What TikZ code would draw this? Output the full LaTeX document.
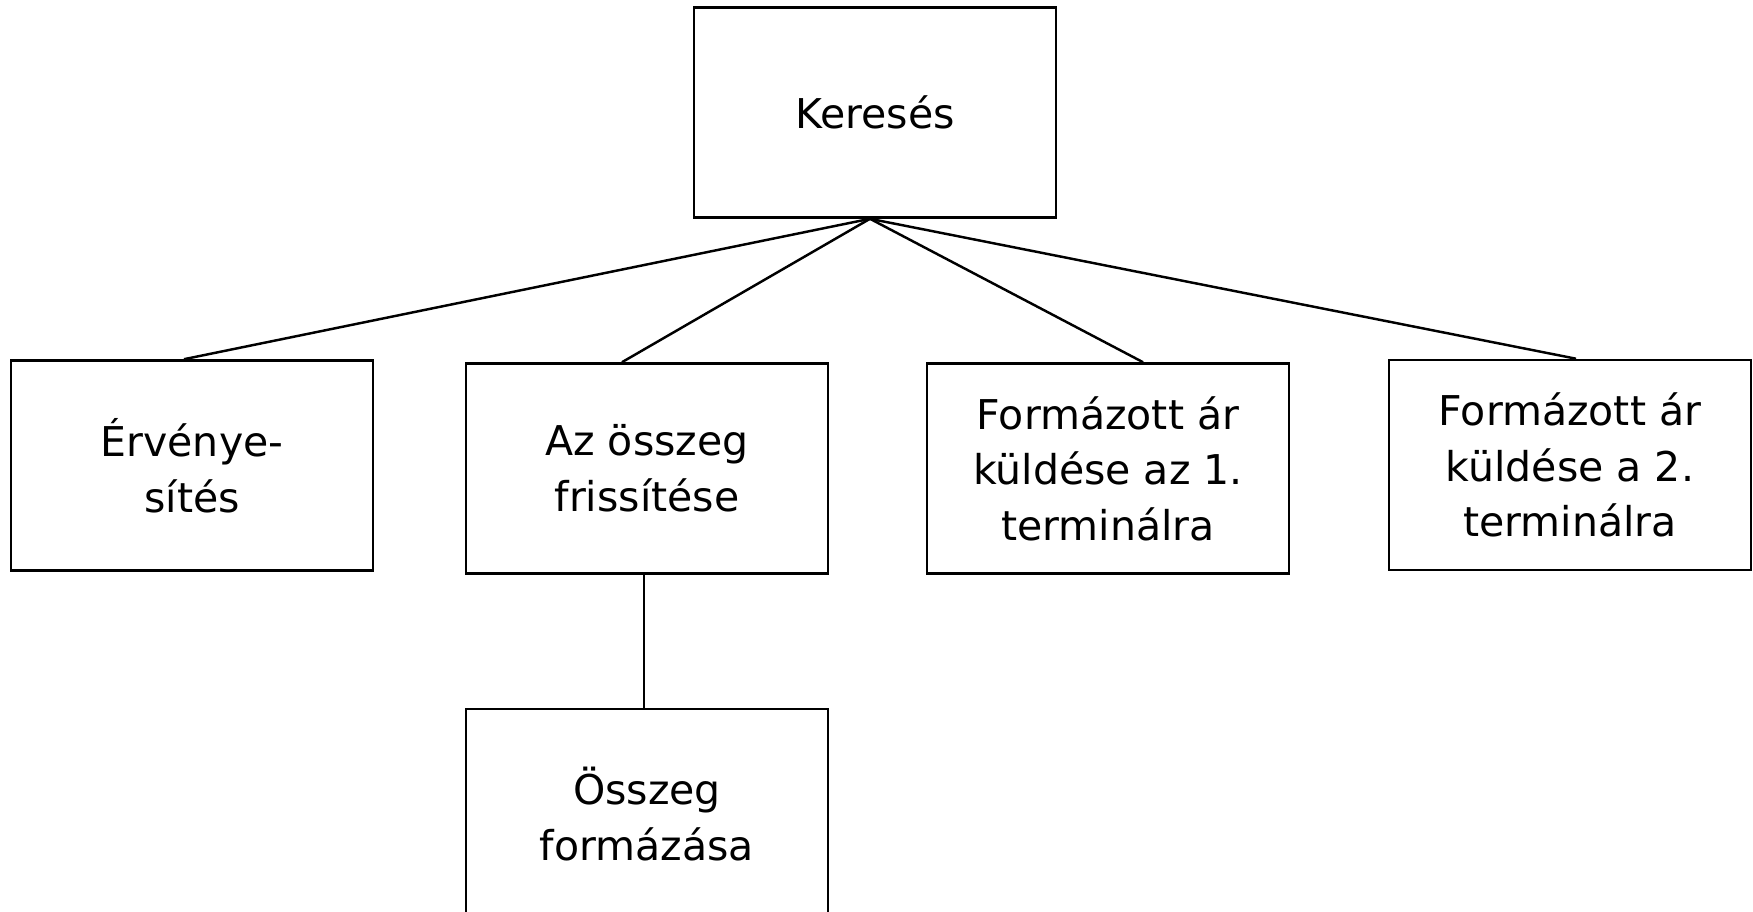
\documentclass[tikz,border=0pt]{standalone}
\usepackage{fontspec}
\setmainfont{DejaVu Sans}
\usetikzlibrary{positioning}

\begin{document}
\begin{tikzpicture}
	[x=0.01cm,y=-0.01cm,
	every node/.style={draw,line width=0.7pt,minimum width=3.62cm,minimum height=2.1cm,
		align=center,inner sep=0pt,font=\fontsize{11.67}{15.8}\selectfont},
	conn/.style={line width=0.7pt}]
	\useasboundingbox (0,0) rectangle (1753,912);
	\node (kereses) at (875,112.5) {Keresés};
	\node (erv) at (192,465.5) {Érvénye-\\sítés};
	\node (osszeg) at (647,468.5) {Az összeg\\frissítése};
	\node (term1) at (1108,468.5) {Formázott ár\\küldése az 1.\\terminálra};
	\node (term2) at (1570,465) {Formázott ár\\küldése a 2.\\terminálra};
	\node[below=1.33cm of osszeg] (format) {Összeg\\formázása};
	% connectors
	\draw[conn] ([xshift=-0.05cm]kereses.south) -- ([xshift=-0.08cm]erv.north);
	\draw[conn] ([xshift=-0.05cm]kereses.south) -- ([xshift=-0.25cm]osszeg.north);
	\draw[conn] ([xshift=-0.05cm]kereses.south) -- ([xshift=0.35cm]term1.north);
	\draw[conn] ([xshift=-0.05cm]kereses.south) -- ([xshift=0.06cm]term2.north);
	\draw[conn] ([xshift=-0.03cm]osszeg.south) -- ([xshift=-0.03cm]format.north);
\end{tikzpicture}
\end{document}
